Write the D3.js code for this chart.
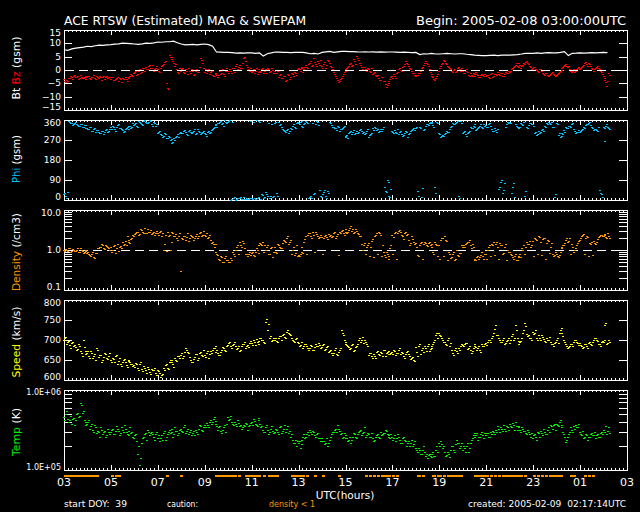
<!DOCTYPE html>
<html lang="en">
<head>
<meta charset="utf-8">
<title>ACE RTSW (Estimated) MAG &amp; SWEPAM</title>
<script src="https://d3js.org/d3.v7.min.js"></script>
<style>
  html, body { margin: 0; padding: 0; background: #000; }
  svg { display: block; }
  text { font-family: "DejaVu Sans", sans-serif; fill: #fff; white-space: pre; }
</style>
</head>
<body>
<script>
// sampling steps (hours after 03:00 UTC); the "B" arrays sit half a step later
var step5 = 5 / 60;
var step10 = 10 / 60;

// Bt (nT), one value every 10 min
var btVals = [
  7.6,7.4,7.9,8.2,8.4,8.6, 8.9,8.8,9.1,9.3,9.2,9.4, 9.5,9.7,9.8,10.1,10.0,9.9,
  9.75,9.6,9.8,10.1,10.0,10.2, 10.5,10.4,10.6,10.6,10.8,10.2, 9.75,9.4,9.5,9.6,9.4,9.6,
  9.75,9.5,8.9,6.75,6.7,6.6, 6.6,6.5,6.3,6.4,6.3,6.4, 6.4,6.2,6.4,5.2,6.1,6.4,
  6.75,6.7,6.6,6.6,6.5,6.6, 6.6,6.6,6.4,6.1,6.2,6.0, 6.6,6.8,7.0,6.6,6.8,7.0,
  7.0,6.9,6.9,6.8,6.75,6.8, 6.75,6.8,6.7,6.8,6.7,6.75, 6.75,6.7,6.6,6.7,6.6,6.5,
  6.6,5.8,6.1,6.0,6.2,6.0, 6.0,6.1,6.2,6.1,6.0,6.1, 6.1,5.9,5.8,5.6,5.5,5.4,
  5.4,5.5,5.6,5.4,5.6,5.6, 5.6,5.7,5.8,6.0,6.25,6.2, 6.25,6.4,6.2,6.4,6.5,6.4,
  6.4,6.6,6.9,5.4,6.25,6.3, 6.4,6.3,6.4,6.5,6.4,6.5, 6.6,6.5
];

// Bz (nT), every 5 min
var bzA = [
  -3.5,-4.5,-4.2,-3,-2.6,-2.2,-2.8,-2.4,-3.1,-2.5,-2.9,-2.2,
  -2.8,-2.4,-3.2,-2.6,-2.9,-2.2,-3.0,-2.5,-2.7,-3.3,-2.4,-2.8,
  -3.2,-2.8,-3.6,-3.0,-4.2,-3.4,-2.9,-3.5,-3.2,-2.6,-2.2,-1.8,
  -1.2,-0.5,-1.6,0.2,-0.6,0.8,1.2,0.4,1.8,0.6,-0.3,0.9,
  0.2,-0.8,1.5,2.4,3.3,-6.7,5.8,4.8,3.5,1.6,0.4,-1.0,
  -0.4,0.8,-1.2,-0.3,0.6,-1.0,-0.5,-1.4,0.3,-0.8,4.5,2.6,
  -0.6,-1.2,0.4,-0.8,-1.8,-2.2,-1.4,-2.6,-0.5,-1.0,-1.6,-0.4,
  -0.5,0.3,-1.2,0.6,1.4,0.2,1.8,0.9,4.4,3.2,1.0,-0.2,
  -0.6,0.4,-0.3,-1.4,0.2,-0.8,0.6,-0.2,-1.0,0.5,-0.4,0.1,
  -0.5,-1.2,-2.5,-1.6,-3.0,-2.4,-3.6,-2.0,-2.8,-1.4,-0.6,-1.8,
  0.8,-0.4,1.2,0.3,1.8,0.6,2.6,1.4,4.5,2.2,3.2,2.0,
  1.4,2.2,0.6,3.9,2.8,1.2,-0.8,-2.2,-3.6,-4.2,-3.0,-1.5,
  -0.5,0.8,1.6,2.6,1.8,3.2,5.1,3.6,2.0,0.4,1.2,-0.3,
  0.2,-0.6,-1.5,-0.8,-2.4,-3.0,-3.6,-2.8,-4.2,-6.4,-5.0,-3.4,
  -2.4,-1.6,-3.0,-0.6,0.8,-0.2,1.6,3.2,2.2,0.8,-0.5,-1.2,
  -2.4,-1.8,-1.0,0.6,1.8,3.2,2.4,0.2,-1.6,-2.8,-3.6,-2.2,
  -0.4,1.6,2.8,3.3,2.2,1.0,0.2,-0.6,0.4,-0.2,1.0,-0.4,
  -0.4,-1.0,0.2,-1.8,-1.2,-2.4,-1.6,-0.8,-2.0,-2.8,-1.4,-2.2,
  -2.4,-1.8,-3.0,-1.2,-2.2,-1.6,-0.8,-1.8,-1.0,-2.4,-0.6,-1.2,
  -0.6,0.4,1.2,2.0,1.4,2.6,0.8,1.8,2.4,3.3,2.2,1.0,
  0.6,1.2,0.0,-0.6,0.4,-1.0,-1.8,-1.2,-2.4,-1.4,-0.8,-1.8,
  -1.8,-1.2,-0.4,0.6,1.4,2.4,1.0,0.4,-0.6,0.2,-0.4,0.8,
  0.4,1.2,2.0,3.0,1.6,2.4,0.8,-0.2,0.6,1.4,0.2,-0.6,
  -2.4,-3.6,-5.9,-1.0
];
var bzB = [
  -4.0,-3.8,-3.0,-2.4,-3.2,-1.8,-2.6,-3.4,-2.0,-3.0,-2.6,-3.4,
  -2.2,-3.0,-2.8,-2.0,-3.4,-2.6,-2.4,-3.6,-2.2,-2.8,-3.0,-2.6,
  -2.6,-3.8,-3.4,-2.6,-3.0,-4.6,-3.2,-2.8,-4.0,-3.0,-1.4,-2.4,
  -0.8,-1.8,-0.2,-1.0,0.6,-0.2,0.4,1.6,0.8,2.0,0.2,1.4,
  -0.4,0.8,2.0,3.0,-5.0,-7.2,5.0,4.0,2.6,2.2,-0.6,0.6,
  0.4,-0.6,0.2,-1.6,-0.2,0.4,-1.8,-0.2,-0.6,1.2,3.6,0.8,
  0.2,-0.4,-1.4,-0.2,-2.4,-1.2,-2.0,-1.8,-1.4,0.2,-2.2,0.6,
  -1.0,-0.2,0.8,-0.6,2.2,1.0,0.6,2.6,5.0,2.0,0.4,0.6,
  -0.2,-1.0,0.8,-0.8,-0.4,0.4,-1.2,0.2,0.8,-0.6,0.6,-1.0,
  -1.0,-0.2,-1.8,-3.0,-2.2,-4.2,-1.6,-3.2,-1.2,-2.4,-1.0,0.2,
  0.2,0.8,-0.6,1.0,1.2,2.2,3.4,2.0,3.0,1.6,2.6,3.6,
  0.8,3.0,1.8,3.2,1.6,0.2,-1.4,-3.0,-4.6,-3.4,-2.4,-0.6,
  0.2,1.2,2.2,1.4,4.0,2.4,4.4,2.8,1.2,1.0,0.4,0.6,
  -0.4,0.6,-1.0,-2.0,-1.8,-3.8,-2.6,-4.0,-5.4,-5.6,-4.2,-2.8,
  -3.0,-2.2,-1.0,0.2,0.0,1.0,2.4,2.6,1.4,0.2,-1.0,-1.8,
  -2.0,-1.2,-0.2,1.2,2.6,2.8,1.4,-0.6,-2.2,-3.2,-3.0,-1.4,
  0.6,2.2,3.6,2.6,1.6,0.6,-0.4,0.0,-0.8,0.6,0.2,0.8,
  -1.2,-0.2,-0.8,-2.4,-1.8,-1.2,-2.2,-1.4,-2.6,-1.8,-2.0,-1.6,
  -2.0,-2.6,-1.6,-2.6,-1.4,-2.0,-1.4,-1.0,-2.2,-1.6,-1.2,-0.4,
  -0.2,0.8,1.6,2.6,1.0,2.0,1.4,2.6,3.0,2.8,1.6,0.4,
  1.0,0.4,-0.4,0.2,-0.2,-1.6,-1.2,-2.0,-1.8,-1.0,-1.4,-2.2,
  -1.4,-0.8,0.0,1.0,2.0,1.6,1.4,-0.2,-0.2,-0.8,0.4,1.2,
  0.8,1.6,2.6,2.2,2.8,1.4,0.2,0.4,1.0,0.8,-0.2,-1.4,
  -3.0,-4.6,-4.2,-2.0
];

// Phi GSM (deg), every 5 min
var phiA = [
  25,18,35,350,345,340,352,338,335,342,330,336,
  325,318,330,312,322,315,308,300,310,305,318,312,
  327,335,320,330,340,322,315,310,325,318,332,328,
  337,345,330,350,342,355,352,345,358,340,350,335,
  300,310,292,288,295,280,285,275,262,272,290,282,
  307,300,315,298,310,305,307,318,300,312,295,305,
  300,288,310,305,320,330,337,345,350,340,335,352,
  352,358,5,8,2,10,7,4,12,6,3,9,
  7,352,4,10,355,6,22,15,28,345,18,12,
  345,30,350,340,320,310,315,300,325,335,330,345,
  345,350,335,340,355,348,15,8,25,340,352,45,
  12,35,20,40,350,338,330,322,335,310,320,328,
  285,292,300,310,307,298,312,305,320,300,295,310,
  285,295,322,330,315,305,318,320,60,35,80,15,
  310,300,307,320,305,298,292,310,285,300,315,322,
  322,40,330,12,315,335,340,345,352,338,60,350,
  300,285,292,296,310,305,330,345,340,350,20,355,
  300,310,290,305,330,322,340,315,325,335,330,342,
  337,328,345,318,310,315,320,60,90,45,330,352,
  352,30,75,340,330,322,345,336,20,330,338,345,
  340,300,292,310,305,320,335,345,350,340,330,15,
  348,292,285,300,315,330,325,335,340,320,300,307,
  307,315,330,337,342,350,330,315,320,310,45,25,
  330,267,340,322
];
var phiB = [
  30,10,355,348,338,346,344,332,340,328,338,325,
  318,330,310,320,308,316,300,312,298,315,306,320,
  320,330,312,338,326,318,305,320,330,335,325,345,
  342,335,355,348,338,360,345,350,355,332,345,340,
  305,295,285,300,278,290,270,258,280,285,295,300,
  300,312,305,292,315,300,310,298,320,305,300,310,
  295,305,300,315,325,340,330,348,355,345,358,345,
  356,2,350,12,4,8,15,3,6,10,5,355,
  3,8,358,14,350,25,10,35,20,8,340,20,
  350,20,338,330,315,305,320,310,318,340,325,352,
  340,355,330,345,350,10,20,345,30,355,338,20,
  25,45,8,30,345,330,325,315,330,318,325,335,
  290,280,305,298,315,302,300,315,310,305,300,318,
  292,300,315,325,320,310,312,330,40,90,20,50,
  305,315,300,295,310,290,300,305,295,310,320,315,
  330,20,325,55,320,342,338,350,345,330,30,345,
  295,290,288,300,305,320,335,340,348,355,10,345,
  305,295,300,310,325,335,330,320,330,340,325,335,
  330,340,335,312,322,305,50,80,30,75,340,345,
  345,60,15,335,325,330,340,350,40,325,345,340,
  335,305,298,300,315,310,330,340,345,352,330,25,
  340,300,290,295,305,325,335,330,345,312,305,315,
  312,320,325,342,348,338,325,320,315,330,30,15,
  325,335,330,318
];

// proton density (/cm3), every 5 min
var densA = [
  1.0,1.05,0.95,1.1,0.92,1.0,0.95,1.15,0.9,1.0,0.85,0.95,
  0.86,0.8,0.7,0.9,0.62,0.85,1.1,1.2,1.3,1.05,1.25,1.15,
  1.2,1.0,1.3,1.15,0.95,1.25,1.6,1.4,1.3,1.8,1.5,2.0,
  2.3,2.6,2.9,2.5,3.1,2.7,2.6,3.3,2.8,2.5,2.9,2.6,
  2.6,2.8,2.2,1.0,2.4,2.9,2.4,1.6,2.6,2.2,2.0,2.3,
  0.3,1.9,2.3,2.1,1.7,2.4,2.15,1.95,2.5,2.2,2.8,2.4,
  2.4,2.6,2.1,1.8,1.6,1.2,1.4,0.75,0.55,0.65,0.5,0.7,
  0.56,0.5,0.56,0.8,1.0,1.3,1.6,1.2,1.5,0.8,0.7,0.9,
  0.82,0.75,0.9,1.0,1.3,1.45,1.6,1.3,1.2,0.8,1.1,0.65,
  1.2,0.85,1.3,1.1,1.5,1.7,1.95,1.4,1.8,1.0,0.75,1.3,
  0.75,0.8,1.2,1.6,2.2,2.4,2.6,2.0,2.4,2.8,2.2,2.15,
  2.15,2.0,2.4,1.9,2.3,2.15,2.6,2.0,2.5,2.9,3.0,2.7,
  2.9,2.6,3.2,4.0,3.3,2.8,3.0,2.5,2.2,1.0,1.5,1.2,
  1.5,1.2,1.9,2.2,2.6,2.9,2.4,1.3,0.75,0.9,0.7,1.1,
  2.4,2.1,2.9,2.6,3.2,2.4,1.9,2.9,2.5,1.3,2.2,1.6,
  1.5,0.75,1.3,1.6,1.4,1.5,1.25,1.55,1.4,0.9,1.6,1.3,
  1.3,1.8,1.95,2.2,1.7,0.9,0.62,0.8,0.55,1.0,0.7,0.85,
  1.2,1.2,1.5,1.6,1.3,1.4,0.6,0.55,0.7,0.65,0.9,0.6,
  0.8,1.0,1.3,1.45,1.6,1.4,1.2,1.5,1.35,0.85,1.45,1.0,
  0.9,0.75,0.6,0.8,0.55,0.7,0.65,1.0,0.8,1.6,1.4,1.2,
  1.7,1.95,1.8,2.2,1.6,1.9,2.0,1.5,1.7,1.2,0.8,0.75,
  0.8,0.65,0.9,1.1,1.3,1.8,1.6,1.95,1.4,0.9,1.1,1.5,
  1.8,2.2,2.5,2.0,2.1,1.5,1.6,1.7,1.4,1.9,2.2,2.4,
  2.2,2.5,2.0,2.3
];
var densB = [
  0.95,1.0,1.1,0.9,1.05,0.95,1.0,0.9,1.1,0.95,0.9,1.0,
  0.9,0.75,0.8,0.65,0.85,1.1,1.2,1.4,1.1,1.3,1.2,1.0,
  0.9,1.25,0.85,1.4,1.2,1.1,1.3,1.7,2.2,1.6,1.9,2.4,
  2.5,2.8,2.4,3.3,2.9,3.6,2.6,2.9,3.1,2.7,2.4,3.0,
  2.4,3.0,2.6,1.4,0.95,2.2,1.0,2.8,2.3,2.5,1.8,2.6,
  2.0,2.3,1.8,2.6,2.0,2.2,1.8,2.3,2.0,2.6,2.3,3.0,
  2.2,2.0,2.4,1.5,1.4,0.9,0.8,0.6,0.7,0.5,0.62,0.55,
  0.5,0.62,0.9,0.7,1.2,0.8,1.3,1.7,1.1,0.8,0.8,0.75,
  0.9,0.7,1.1,0.85,1.5,1.3,0.9,1.0,1.3,0.8,1.2,0.9,
  0.9,1.4,1.2,1.1,1.8,1.6,2.2,1.6,0.8,1.2,0.85,0.7,
  0.7,0.9,0.85,1.9,0.8,2.6,2.3,2.8,0.9,2.5,2.0,2.4,
  0.8,2.2,2.1,2.5,2.4,2.2,2.8,2.2,0.75,2.6,3.2,2.4,
  3.3,2.8,3.6,3.0,2.6,3.4,2.7,2.2,1.4,1.3,0.8,1.3,
  0.7,1.7,0.65,2.4,0.8,2.6,0.7,0.9,0.65,0.8,0.6,1.3,
  0.8,2.7,0.6,3.0,2.8,2.2,2.6,2.4,1.8,1.5,1.9,1.4,
  1.2,0.7,1.5,0.6,1.6,1.3,1.5,1.3,1.2,0.8,1.4,0.7,
  0.6,2.0,0.7,1.8,0.55,0.8,0.65,0.9,0.6,0.75,0.85,1.3,
  1.3,1.4,1.6,1.8,1.1,1.2,0.55,0.65,0.6,0.75,0.7,0.8,
  0.6,1.2,0.7,1.3,0.75,1.6,0.6,1.3,0.8,1.2,0.55,0.9,
  0.8,0.65,0.7,0.55,0.65,0.8,1.1,1.3,1.2,1.4,1.7,1.3,
  0.7,1.9,0.8,2.1,0.75,2.0,0.6,1.8,0.85,1.5,0.7,0.9,
  0.7,0.75,1.2,1.3,1.5,2.0,1.7,0.8,1.2,1.0,1.3,1.7,
  2.0,2.4,0.8,2.3,0.7,1.4,0.75,1.5,1.6,2.1,2.4,2.2,
  2.4,2.1,2.6,2.0
];

// bulk speed (km/s), every 5 min
var speedA = [
  700,708,695,688,692,684,683,678,686,667,700,672,
  667,660,672,655,664,680,658,662,650,668,656,660,
  650,655,645,662,648,640,646,652,638,650,644,640,
  637,642,630,640,628,635,625,632,620,628,624,618,
  625,618,612,630,637,630,645,650,640,656,648,660,
  662,655,670,675,668,650,645,658,664,655,670,660,
  662,668,655,672,675,680,670,667,662,675,680,672,
  688,695,680,690,684,679,672,685,690,680,688,692,
  692,700,688,695,698,705,700,692,752,740,710,700,
  700,698,705,710,712,708,721,718,712,700,695,705,
  692,688,696,684,690,680,679,685,675,690,684,688,
  683,690,678,684,672,668,667,680,662,675,725,712,
  695,688,683,680,690,675,685,700,695,708,700,690,
  662,668,655,660,670,665,671,660,675,668,672,664,
  671,675,662,668,680,671,660,665,672,660,654,650,
  683,660,690,675,670,679,685,672,680,690,700,717,
  717,710,700,696,688,705,692,667,675,672,680,685,
  688,690,692,680,675,672,686,682,680,675,690,685,
  692,695,700,705,717,737,712,700,696,705,692,700,
  692,710,700,737,705,690,698,717,742,715,712,705,
  721,718,705,712,700,708,698,705,700,695,690,692,
  700,692,725,718,700,690,679,684,690,695,700,692,
  692,686,683,690,680,695,688,700,705,698,690,694,
  695,737,690,700
];
var speedB = [
  705,690,698,680,695,688,676,690,672,660,682,665,
  672,655,668,660,650,675,662,645,658,664,652,668,
  645,652,660,640,655,636,650,644,632,648,640,636,
  632,640,625,645,622,630,618,628,615,624,630,612,
  622,608,615,625,640,628,650,644,632,650,660,655,
  668,660,680,670,658,645,652,664,650,668,662,674,
  658,672,665,668,680,686,675,662,670,682,676,685,
  692,684,688,695,678,684,676,690,694,685,682,698,
  688,696,702,690,705,700,696,745,725,705,698,706,
  704,695,710,700,716,705,725,714,705,698,702,696,
  686,694,680,690,684,675,688,676,682,686,692,680,
  688,676,682,670,674,662,675,666,670,680,718,700,
  690,684,678,688,672,682,690,705,700,692,696,684,
  668,660,664,655,672,662,668,675,660,670,664,668,
  665,672,668,676,664,668,656,670,666,652,658,648,
  670,685,665,680,684,672,690,678,686,695,712,705,
  712,705,695,690,700,685,675,662,680,668,676,690,
  684,692,678,684,668,680,690,676,684,670,686,690,
  688,700,696,710,728,712,705,695,700,690,698,705,
  700,715,705,725,698,694,705,725,735,710,705,700,
  715,724,700,706,712,702,694,700,708,690,686,696,
  705,718,730,710,695,685,682,690,686,700,694,688,
  688,680,690,684,692,690,696,706,700,690,686,698,
  700,742,692,696
];

// ion temperature (K), every 5 min
var tempA = [
  4.6e5,5.0e5,4.4e5,4.2e5,3.8e5,4.5e5,4.2e5,5.2e5,4.8e5,6.5e5,5.5e5,4.0e5,
  3.8e5,4.2e5,3.5e5,3.2e5,3.6e5,2.9e5,3.0e5,3.4e5,2.8e5,3.1e5,2.7e5,3.0e5,
  3.0e5,3.3e5,2.8e5,3.5e5,3.1e5,2.9e5,3.2e5,3.6e5,3.0e5,2.7e5,3.4e5,3.0e5,
  2.5e5,2.8e5,1.6e5,1.15e5,2.2e5,2.6e5,2.9e5,3.2e5,2.7e5,3.0e5,2.6e5,2.8e5,
  2.5e5,2.3e5,2.7e5,2.9e5,2.4e5,2.8e5,3.2e5,3.0e5,2.6e5,3.4e5,3.1e5,2.9e5,
  3.3e5,3.0e5,3.6e5,3.1e5,2.8e5,3.2e5,2.9e5,2.7e5,3.0e5,3.3e5,3.5e5,3.1e5,
  3.65e5,3.9e5,3.4e5,4.2e5,4.0e5,4.6e5,3.8e5,3.2e5,3.5e5,2.9e5,3.4e5,3.0e5,
  4.6e5,4.4e5,4.0e5,3.6e5,3.8e5,4.2e5,3.5e5,3.3e5,3.7e5,3.9e5,3.2e5,3.6e5,
  4.0e5,4.3e5,3.8e5,3.5e5,4.5e5,3.4e5,3.2e5,3.0e5,3.6e5,2.8e5,3.3e5,3.1e5,
  3.0e5,3.2e5,2.8e5,3.5e5,3.1e5,3.6e5,3.3e5,2.9e5,2.6e5,2.4e5,2.2e5,2.0e5,
  2.15e5,1.9e5,2.4e5,2.8e5,2.6e5,3.0e5,3.2e5,2.8e5,3.0e5,2.6e5,2.9e5,2.5e5,
  2.5e5,2.3e5,2.2e5,2.0e5,2.4e5,2.8e5,3.0e5,3.3e5,3.6e5,3.1e5,2.9e5,2.6e5,
  2.7e5,2.5e5,2.4e5,2.2e5,2.6e5,2.8e5,2.5e5,3.0e5,3.2e5,2.9e5,3.4e5,2.7e5,
  2.8e5,2.6e5,2.5e5,2.4e5,2.7e5,2.6e5,3.0e5,2.8e5,2.9e5,3.1e5,2.7e5,2.5e5,
  2.6e5,2.5e5,2.3e5,2.8e5,2.4e5,2.2e5,2.6e5,2.3e5,2.15e5,2.0e5,2.4e5,2.1e5,
  1.9e5,1.7e5,1.8e5,1.6e5,2.0e5,1.5e5,1.4e5,1.6e5,1.45e5,1.7e5,1.5e5,2.0e5,
  2.15e5,2.3e5,1.9e5,1.7e5,1.55e5,1.6e5,1.8e5,2.0e5,1.7e5,2.4e5,2.2e5,2.0e5,
  1.8e5,1.9e5,2.0e5,1.7e5,2.2e5,2.5e5,2.9e5,2.7e5,2.4e5,2.6e5,3.0e5,2.5e5,
  2.7e5,2.9e5,2.6e5,2.8e5,3.0e5,3.2e5,3.5e5,3.0e5,3.3e5,3.6e5,3.1e5,3.4e5,
  3.8e5,3.4e5,3.6e5,4.0e5,3.2e5,3.5e5,3.0e5,3.3e5,3.1e5,2.8e5,3.0e5,2.6e5,
  2.5e5,2.8e5,2.4e5,2.9e5,3.1e5,2.7e5,3.0e5,2.8e5,3.4e5,3.65e5,3.3e5,3.8e5,
  3.8e5,3.5e5,4.2e5,3.4e5,2.8e5,2.25e5,2.6e5,3.0e5,3.2e5,3.5e5,3.7e5,3.4e5,
  3.0e5,2.7e5,2.5e5,2.8e5,2.4e5,2.6e5,2.9e5,2.7e5,2.5e5,2.8e5,2.6e5,3.0e5,
  3.2e5,3.0e5,2.8e5,3.4e5
];
var tempB = [
  4.2e5,5.5e5,4.0e5,4.8e5,4.4e5,3.6e5,5.0e5,4.6e5,6.8e5,5.2e5,4.2e5,3.6e5,
  4.0e5,3.3e5,3.8e5,3.0e5,3.4e5,3.1e5,2.6e5,3.2e5,3.0e5,2.6e5,3.3e5,2.8e5,
  3.2e5,2.8e5,3.1e5,3.3e5,2.7e5,3.4e5,3.0e5,3.3e5,2.8e5,3.1e5,2.9e5,2.6e5,
  2.7e5,2.3e5,2.0e5,1.4e5,2.5e5,2.8e5,2.4e5,3.0e5,2.9e5,2.8e5,2.4e5,3.0e5,
  2.7e5,2.5e5,2.4e5,3.1e5,2.6e5,3.0e5,2.9e5,3.3e5,2.8e5,3.1e5,2.7e5,3.2e5,
  3.1e5,3.4e5,2.9e5,3.3e5,3.0e5,2.7e5,3.1e5,3.2e5,2.8e5,3.6e5,3.2e5,3.4e5,
  3.4e5,3.6e5,4.0e5,3.8e5,4.3e5,4.1e5,3.5e5,3.4e5,3.1e5,3.2e5,3.6e5,3.8e5,
  4.2e5,4.8e5,3.8e5,4.0e5,3.5e5,3.9e5,3.7e5,3.4e5,3.5e5,3.8e5,3.5e5,3.9e5,
  3.7e5,4.1e5,3.6e5,4.2e5,3.8e5,3.5e5,3.0e5,3.4e5,3.2e5,3.0e5,3.5e5,2.9e5,
  3.3e5,3.0e5,3.4e5,2.9e5,3.3e5,3.0e5,3.5e5,3.1e5,2.8e5,2.2e5,2.4e5,2.3e5,
  2.3e5,2.1e5,2.6e5,2.5e5,2.8e5,2.7e5,3.0e5,3.1e5,2.7e5,2.8e5,2.5e5,2.3e5,
  2.3e5,2.1e5,2.5e5,2.2e5,2.6e5,3.0e5,3.2e5,3.0e5,3.3e5,2.8e5,2.5e5,2.9e5,
  2.5e5,2.3e5,2.6e5,2.4e5,2.9e5,2.6e5,2.8e5,3.1e5,2.7e5,3.0e5,2.6e5,2.9e5,
  2.6e5,2.9e5,2.3e5,2.6e5,2.8e5,2.5e5,2.7e5,2.9e5,3.2e5,2.8e5,2.6e5,2.8e5,
  2.4e5,2.7e5,2.5e5,2.6e5,2.2e5,2.5e5,2.4e5,2.0e5,2.3e5,2.2e5,2.0e5,2.3e5,
  1.8e5,1.9e5,1.6e5,1.8e5,1.7e5,1.6e5,1.55e5,1.5e5,1.6e5,1.5e5,1.8e5,1.7e5,
  2.0e5,2.1e5,2.0e5,1.5e5,1.7e5,1.45e5,2.0e5,1.8e5,2.1e5,2.2e5,1.9e5,2.2e5,
  2.0e5,1.7e5,2.2e5,1.9e5,2.4e5,2.7e5,2.6e5,2.9e5,2.6e5,2.8e5,2.7e5,2.9e5,
  2.9e5,2.6e5,3.0e5,3.1e5,2.8e5,3.0e5,3.3e5,3.4e5,3.1e5,3.3e5,3.5e5,3.2e5,
  3.5e5,3.9e5,3.2e5,3.5e5,3.4e5,3.2e5,3.4e5,3.1e5,2.9e5,3.2e5,2.8e5,2.9e5,
  2.7e5,2.6e5,3.0e5,2.6e5,2.9e5,3.3e5,2.8e5,3.2e5,3.0e5,3.5e5,3.6e5,3.2e5,
  3.6e5,4.0e5,3.6e5,3.0e5,2.6e5,2.4e5,2.8e5,3.4e5,3.0e5,3.3e5,3.4e5,3.8e5,
  2.8e5,3.1e5,2.6e5,2.7e5,2.6e5,2.8e5,2.7e5,3.0e5,2.7e5,2.6e5,2.9e5,2.8e5,
  3.0e5,3.5e5,3.1e5,2.9e5
];

// axis labels
var hourLabels = ["03","05","07","09","11","13","15","17","19","21","23","01","03"];
var bTicks = [15,10,5,0,-5,-10,-15];
var bLabels = ["15","10","5","0","\u22125","\u221210","\u221215"];
var phiTicks = [360,270,180,90,0];
var densTicks = [10,1,0.1];
var densLabels = ["10.0","1.0","0.1"];
var speedTicks = [800,750,700,650,600];
var tempTicks = [1e6,1e5];
var tempLabels = ["1.0E+06","1.0E+05"];

var w = 640, h = 512;
var left = 64, right = 627, ph = 80;
var tops = [30, 120, 210, 300, 390];

var svg = d3.select("body").append("svg")
  .attr("width", w).attr("height", h)
  .style("background", "#000");

var x = d3.scaleLinear().domain([0, 24]).range([left, right]);

function toPts(vals, step, offset) {
  return vals.map(function(v, i) { return { t: (i + offset) * step, v: v }; });
}

// panel frame + time ticks on top and bottom edges
function frame(top) {
  var g = svg.append("g").attr("shape-rendering", "crispEdges");
  g.append("rect")
    .attr("x", left + 0.5).attr("y", top + 0.5)
    .attr("width", right - left).attr("height", ph)
    .attr("fill", "none").attr("stroke", "#fff").attr("stroke-width", 1);
  d3.range(0, 24 * 6 + 1).forEach(function(m) {
    var len = (m % 12 === 0) ? 5 : 2;
    var xx = Math.round(x(m / 6)) + 0.5;
    g.append("line").attr("x1", xx).attr("x2", xx)
      .attr("y1", top).attr("y2", top + len).attr("stroke", "#fff");
    g.append("line").attr("x1", xx).attr("x2", xx)
      .attr("y1", top + ph).attr("y2", top + ph - len).attr("stroke", "#fff");
  });
  return g;
}

function yTicks(g, y, ticks, len) {
  ticks.forEach(function(v) {
    var yy = Math.round(y(v)) + 0.5;
    g.append("line").attr("x1", left).attr("x2", left + len)
      .attr("y1", yy).attr("y2", yy).attr("stroke", "#fff");
    g.append("line").attr("x1", right).attr("x2", right - len)
      .attr("y1", yy).attr("y2", yy).attr("stroke", "#fff");
  });
}

function yLabels(top, y, ticks, labels, size) {
  ticks.forEach(function(v, i) {
    var yy = Math.max(top + 2.5, Math.min(top + ph - 3, y(v)));
    svg.append("text")
      .attr("x", 61).attr("y", yy)
      .attr("text-anchor", "end")
      .attr("dominant-baseline", "central")
      .attr("font-size", size)
      .text(labels ? labels[i] : String(v));
  });
}

function yTitle(cy, len, parts) {
  var t = svg.append("text")
    .attr("transform", "translate(16," + cy + ") rotate(-90)")
    .attr("text-anchor", "middle")
    .attr("dominant-baseline", "central")
    .attr("font-size", 11)
    .attr("textLength", len)
    .attr("lengthAdjust", "spacingAndGlyphs");
  parts.forEach(function(p) {
    t.append("tspan").style("fill", p[1]).text(p[0]);
  });
}

function dots(pts, y, color) {
  svg.append("g").attr("shape-rendering", "crispEdges")
    .selectAll("rect")
    .data(pts).enter().append("rect")
    .attr("x", function(d) { return Math.round(x(d.t)) - 1; })
    .attr("y", function(d) { return Math.round(y(d.v)); })
    .attr("width", 2).attr("height", 1)
    .attr("fill", color);
}

function dashedLine(yy) {
  svg.append("line")
    .attr("x1", left + 1).attr("x2", right - 1)
    .attr("y1", Math.round(yy) + 0.5).attr("y2", Math.round(yy) + 0.5)
    .attr("stroke", "#fff").attr("stroke-dasharray", "9,5")
    .attr("shape-rendering", "crispEdges");
}

// ---- panel 1: Bt / Bz
var yB = d3.scaleLinear().domain([-15, 15]).range([tops[0] + ph, tops[0]]);
var g1 = frame(tops[0]);
yTicks(g1, yB, [10, 5, 0, -5, -10], 8);
yLabels(tops[0], yB, bTicks, bLabels, 9);
dashedLine(yB(0));
svg.append("path")
  .datum(toPts(btVals, step10, 0))
  .attr("d", d3.line().x(function(d) { return x(d.t); }).y(function(d) { return yB(d.v); }))
  .attr("fill", "none").attr("stroke", "#fff").attr("stroke-width", 1.2);
dots(toPts(bzA, step5, 0).concat(toPts(bzB, step5, 0.5)), yB, "#ff0000");
yTitle(68, 63, [["Bt ", "#fff"], ["Bz", "#ff0000"], [" (gsm)", "#fff"]]);

// ---- panel 2: Phi
var yP = d3.scaleLinear().domain([0, 360]).range([tops[1] + ph, tops[1]]);
var g2 = frame(tops[1]);
yTicks(g2, yP, [270, 180, 90], 8);
yLabels(tops[1], yP, phiTicks, null, 9);
dots(toPts(phiA, step5, 0).concat(toPts(phiB, step5, 0.5)), yP, "#00c0ff");
yTitle(159, 48, [["Phi", "#00c0ff"], [" (gsm)", "#fff"]]);

// ---- panel 3: density (log)
var yD = d3.scaleLog().domain([0.1, 10]).range([tops[2] + ph, tops[2]]);
var g3 = frame(tops[2]);
var dMinor = [];
[0.1, 1].forEach(function(dec) { d3.range(2, 10).forEach(function(k) { dMinor.push(dec * k); }); });
yTicks(g3, yD, dMinor.concat([1]), 8);
yLabels(tops[2], yD, densTicks, densLabels, 9);
dashedLine(yD(1));
var densPts = toPts(densA, step5, 0).concat(toPts(densB, step5, 0.5));
dots(densPts, yD, "#ff9600");
yTitle(252, 78, [["Density", "#ff9600"], [" (/cm3)", "#fff"]]);

// ---- panel 4: speed
var yS = d3.scaleLinear().domain([600, 800]).range([tops[3] + ph, tops[3]]);
var g4 = frame(tops[3]);
yTicks(g4, yS, [750, 700, 650], 8);
yLabels(tops[3], yS, speedTicks, null, 9);
dots(toPts(speedA, step5, 0).concat(toPts(speedB, step5, 0.5)), yS, "#ffff00");
yTitle(342, 71, [["Speed", "#ffff00"], [" (km/s)", "#fff"]]);

// ---- panel 5: temperature (log)
var yT = d3.scaleLog().domain([1e5, 1e6]).range([tops[4] + ph, tops[4]]);
var g5 = frame(tops[4]);
yTicks(g5, yT, d3.range(2, 10).map(function(k) { return k * 1e5; }), 8);
yLabels(tops[4], yT, tempTicks, tempLabels, 8);
dots(toPts(tempA, step5, 0).concat(toPts(tempB, step5, 0.5)), yT, "#00ee00");
yTitle(432, 48, [["Temp", "#00ee00"], [" (K)", "#fff"]]);

// density < 1 caution marks under the last panel
svg.append("g").attr("shape-rendering", "crispEdges")
  .selectAll("rect")
  .data(densPts.filter(function(d) { return d.v < 1; }))
  .enter().append("rect")
  .attr("x", function(d) { return Math.round(x(d.t)) - 1; })
  .attr("y", 475).attr("width", 3).attr("height", 2)
  .attr("fill", "#ff9600");

// hour labels
svg.append("g").selectAll("text")
  .data(hourLabels).enter().append("text")
  .attr("x", function(d, i) { return x(i * 2); })
  .attr("y", 486)
  .attr("text-anchor", "middle")
  .attr("font-size", 11)
  .text(function(d) { return d; });

svg.append("text").attr("x", 345).attr("y", 499)
  .attr("text-anchor", "middle").attr("font-size", 10.5)
  .text("UTC(hours)");

// titles
svg.append("text").attr("x", 64).attr("y", 25)
  .attr("font-size", 13).attr("textLength", 242).attr("lengthAdjust", "spacingAndGlyphs")
  .text("ACE RTSW (Estimated) MAG & SWEPAM");
svg.append("text").attr("x", 626).attr("y", 25)
  .attr("text-anchor", "end")
  .attr("font-size", 13).attr("textLength", 210).attr("lengthAdjust", "spacingAndGlyphs")
  .text("Begin: 2005-02-08 03:00:00UTC");

// footer
svg.append("text").attr("x", 64).attr("y", 507).attr("font-size", 9)
  .attr("textLength", 63).attr("lengthAdjust", "spacingAndGlyphs")
  .text("start DOY:  39");
svg.append("text").attr("x", 167).attr("y", 507).attr("font-size", 9)
  .attr("textLength", 31).attr("lengthAdjust", "spacingAndGlyphs")
  .text("caution:");
svg.append("text").attr("x", 269).attr("y", 507).attr("font-size", 9)
  .attr("textLength", 46).attr("lengthAdjust", "spacingAndGlyphs")
  .style("fill", "#ff9600")
  .text("density < 1");
svg.append("text").attr("x", 626).attr("y", 507).attr("font-size", 9)
  .attr("text-anchor", "end")
  .attr("textLength", 158).attr("lengthAdjust", "spacingAndGlyphs")
  .text("created: 2005-02-09  02:17:14UTC");
</script>
</body>
</html>
